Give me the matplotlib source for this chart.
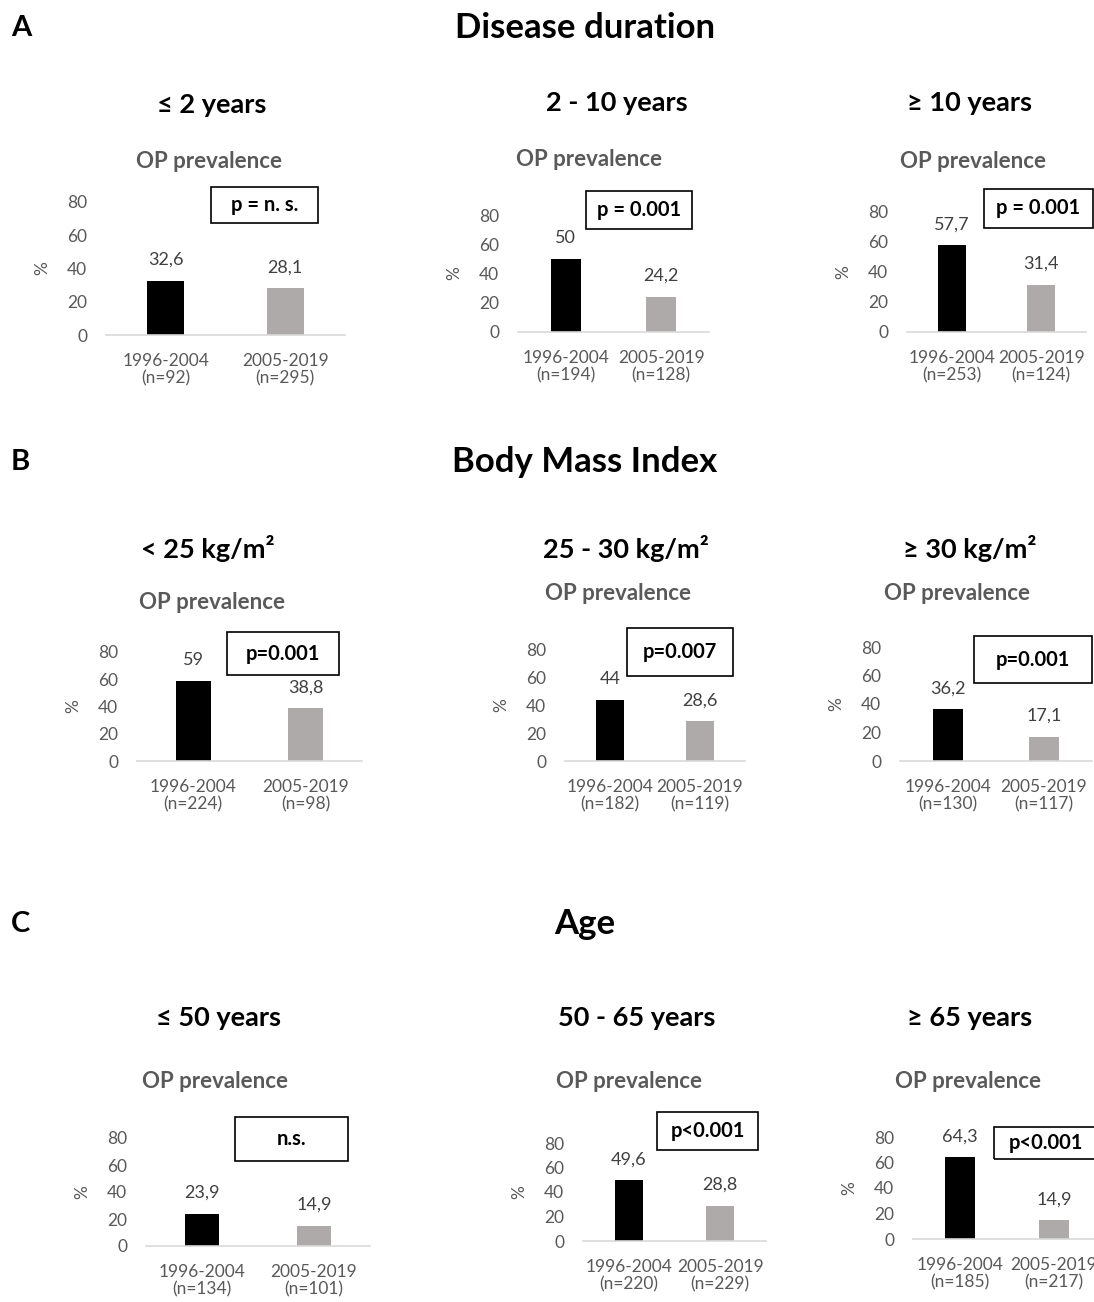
import matplotlib.pyplot as plt
from matplotlib.patches import Rectangle

plt.rcParams['font.family'] = ['Lato', 'DejaVu Sans']

# data
letters = ['A', 'B', 'C']
sections = ['Disease duration', 'Body Mass Index', 'Age']
groups = ['≤ 2 years', '2 - 10 years', '≥ 10 years',
          '< 25 kg/m²', '25 - 30 kg/m²', '≥ 30 kg/m²',
          '≤ 50 years', '50 - 65 years', '≥ 65 years']
periods = ['1996-2004', '2005-2019']
early_pct = [32.6, 50, 57.7, 59, 44, 36.2, 23.9, 49.6, 64.3]
late_pct = [28.1, 24.2, 31.4, 38.8, 28.6, 17.1, 14.9, 28.8, 14.9]
early_n = [92, 194, 253, 224, 182, 130, 134, 220, 185]
late_n = [295, 128, 124, 98, 119, 117, 101, 229, 217]
p_labels = ['p = n. s.', 'p = 0.001', 'p = 0.001',
            'p=0.001', 'p=0.007', 'p=0.001',
            'n.s.', 'p<0.001', 'p<0.001']
yticks = [0, 20, 40, 60, 80]

# layout in pixels
W, H = 1094, 1302
axes_px = [(106, 345, 202, 335), (518, 709, 215, 332), (907, 1086, 212, 332),
           (137, 362, 652, 761), (565, 745, 650, 761), (900, 1092, 647, 761),
           (146, 370, 1138, 1246), (583, 766, 1143, 1241), (913, 1101, 1137, 1239)]
box_px = [(211, 187, 318, 223), (586, 191, 692, 229), (984, 189, 1093, 228),
          (227, 632, 339, 675), (627, 628, 733, 676), (974, 636, 1092, 683),
          (235, 1117, 348, 1161), (657, 1112, 758, 1150), (994, 1127, 1097, 1159)]
op_px = [(209, 162), (589, 160), (973, 162), (212, 603), (618, 593), (957, 593),
         (215, 1082), (629, 1082), (968, 1082)]
sub_px = [(212, 105), (617, 103), (970, 103), (208, 548), (626, 548), (970, 548),
          (219, 1018), (637, 1018), (970, 1018)]
sec_y = [28, 462, 924]

tick_col = '#595959'
fig = plt.figure(figsize=(W / 100, H / 100), dpi=100)

def fx(x):
    return x / W

def fy(y):
    return 1 - y / H

for i in range(3):
    fig.text(fx(11), fy(sec_y[i]), letters[i], fontsize=21, fontweight='bold',
             ha='left', va='center')
    fig.text(fx(585), fy(sec_y[i]), sections[i], fontsize=25, fontweight='bold',
             ha='center', va='center')

for i in range(9):
    x0, x1, y80, yb = axes_px[i]
    ax = fig.add_axes([fx(x0), fy(yb), (x1 - x0) / W, (yb - y80) / H])
    vals = [early_pct[i], late_pct[i]]
    ax.bar([0, 1], vals, width=0.31, color=['#000000', '#AEAAAA'])
    ax.set_xlim(-0.5, 1.5)
    ax.set_ylim(0, 80)
    ax.set_yticks(yticks)
    ax.set_xticks([0, 1])
    ax.set_xticklabels([f'{periods[0]}\n(n={early_n[i]})',
                        f'{periods[1]}\n(n={late_n[i]})'], linespacing=1.1)
    ax.tick_params(axis='both', length=0, labelsize=12.5, labelcolor=tick_col)
    ax.tick_params(axis='y', pad=13.5)
    ax.tick_params(axis='x', pad=13)
    for s in ['top', 'right', 'left']:
        ax.spines[s].set_visible(False)
    ax.spines['bottom'].set_color('#D9D9D9')
    ax.spines['bottom'].set_linewidth(1.2)
    ax.set_ylabel('%', fontsize=12.5, color=tick_col, labelpad=12)
    ax.patch.set_alpha(0)
    for j, v in enumerate(vals):
        ax.annotate(f'{v:g}'.replace('.', ','), (j, v), xytext=(0, 15),
                    textcoords='offset points', ha='center', va='center',
                    fontsize=13, color='#404040')

    bx0, by0, bx1, by1 = box_px[i]
    fig.patches.append(Rectangle((fx(bx0), fy(by1)), (bx1 - bx0) / W, (by1 - by0) / H,
                                 transform=fig.transFigure, fill=False,
                                 edgecolor='black', linewidth=1.2))
    fig.text(fx((bx0 + bx1) / 2), fy((by0 + by1) / 2), p_labels[i], fontsize=14.5,
             fontweight='bold', ha='center', va='center')

    fig.text(fx(op_px[i][0]), fy(op_px[i][1]), 'OP prevalence', fontsize=16,
             fontweight='bold', color=tick_col, ha='center', va='center')
    fig.text(fx(sub_px[i][0]), fy(sub_px[i][1]), groups[i], fontsize=19.5,
             fontweight='bold', ha='center', va='center')

fig.savefig('out.png', dpi=100)
